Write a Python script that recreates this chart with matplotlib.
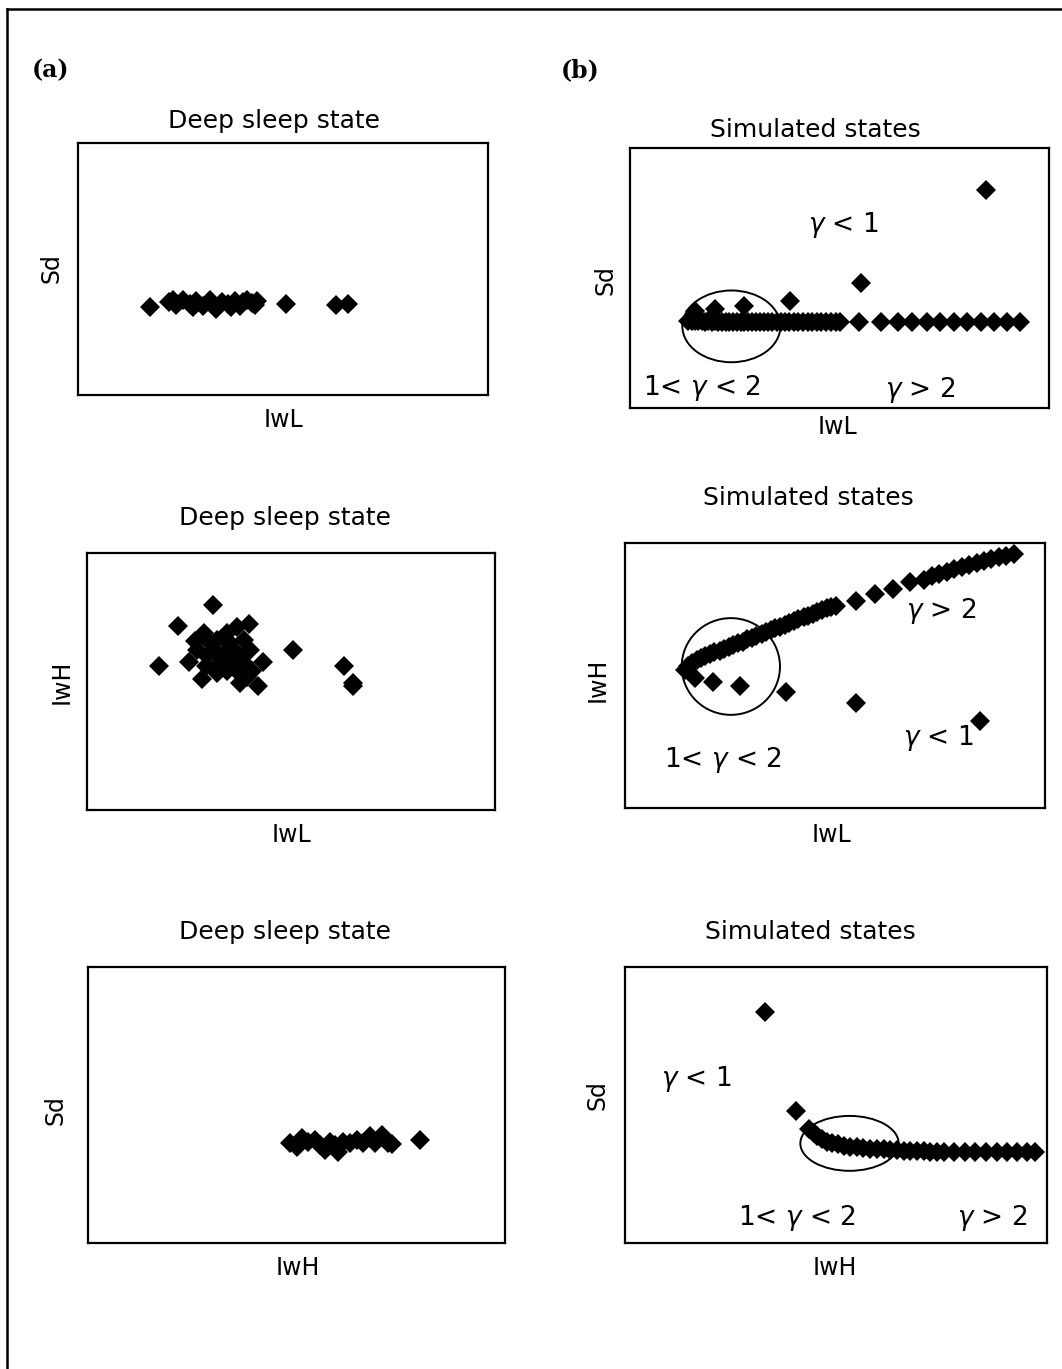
import matplotlib
matplotlib.use("Agg")
import matplotlib.pyplot as plt
from matplotlib.patches import Ellipse
from matplotlib.lines import Line2D

W, H = 1062, 1369

# all values are in percent of each panel's axis range (no ticks in the original)

# (a) top: IwL vs Sd
a1_x = [17.5, 22.2, 23.2, 24.0, 25.6, 27.2, 28.0, 28.9, 30.5, 32.1, 32.9, 33.7, 35.0,
        36.6, 37.4, 38.2, 39.4, 40.2, 41.1, 42.5, 43.1, 43.7, 50.8, 63.0, 65.9]
a1_y = [35.0, 37.0, 37.6, 35.7, 37.6, 36.1, 35.0, 37.4, 35.4, 37.6, 36.3, 34.0, 37.0,
        36.1, 35.0, 37.4, 35.4, 37.0, 37.6, 36.6, 35.7, 37.4, 36.1, 35.7, 36.1]

# (a) middle: IwL vs IwH
a2_x = [30.9, 22.4, 39.8, 17.6, 25.1, 29.2, 28.2, 50.6, 62.9, 65.1, 65.3, 41.8, 37.4, 43.1,
        28.6, 26.5, 26.9, 31.8, 34.3, 36.7, 38.4, 40.0, 36.7, 33.5, 31.0, 32.7, 35.9,
        38.4, 31.8, 34.3, 40.4, 39.2, 30.2, 35.1, 36.7, 33.0, 37.8, 29.5]
a2_y = [79.9, 71.7, 72.5, 56.1, 57.4, 56.1, 50.9, 62.3, 56.1, 49.6, 48.1, 48.4, 49.4, 57.4,
        68.8, 65.6, 62.3, 66.2, 68.8, 71.4, 66.2, 62.3, 61.0, 61.0, 62.3, 57.1, 57.1,
        57.1, 53.2, 53.9, 53.9, 51.9, 64.9, 64.9, 53.9, 59.0, 59.5, 60.0]

# (a) bottom: IwH vs Sd
a3_x = [48.4, 50.0, 51.2, 52.8, 54.4, 55.6, 56.8, 58.0, 59.2, 60.0, 61.2, 62.8, 64.4,
        66.0, 67.6, 68.8, 70.4, 72.0, 73.0, 79.6]
a3_y = [36.3, 34.9, 37.9, 36.7, 37.3, 35.5, 33.7, 36.7, 35.5, 33.1, 36.7, 36.3, 37.3,
        36.1, 38.7, 36.1, 39.1, 36.3, 35.8, 37.3]

# (b) top: simulated IwL vs Sd
b1_x = [13.9, 14.7, 15.5, 16.3, 17.1, 17.9, 18.7, 19.5, 20.3, 21.1, 21.9, 22.8, 23.7,
        24.6, 25.5, 26.4, 27.3, 28.2, 29.1, 30.0, 31.0, 32.0, 33.0, 34.0, 35.0, 36.0,
        37.0, 38.0, 39.1, 40.2, 41.3, 42.4, 43.5, 44.6, 45.7, 46.8, 48.0, 49.1, 50.1,
        54.7, 60.0, 64.0, 67.4, 70.8, 74.1, 77.3, 80.5, 83.7, 86.9, 90.0, 93.0,
        15.5, 20.3, 27.2, 38.2, 55.2, 84.9]
b1_y = [33.6, 33.4, 33.6, 33.3, 33.5, 33.2, 33.4, 33.1, 33.3, 33.0, 33.2, 33.0, 33.1,
        32.9, 33.0, 32.9, 33.0, 32.9, 32.9, 32.9, 32.9, 32.9, 32.9, 32.9, 32.9, 32.9,
        32.9, 32.9, 32.9, 32.9, 32.9, 32.9, 32.9, 32.9, 32.9, 32.9, 32.9, 32.9, 32.9,
        32.9, 32.9, 32.9, 32.9, 32.9, 32.9, 32.9, 32.9, 32.9, 32.9, 32.9, 32.9,
        37.2, 38.1, 39.1, 41.0, 48.1, 84.0]

# (b) middle: simulated IwL vs IwH
b2_x = [14.3, 15.1, 16.0, 17.1, 18.1, 19.1, 20.2, 21.3, 22.5, 23.6, 24.7, 25.8, 26.9,
        28.0, 29.1, 30.2, 31.3, 32.5, 33.6, 34.7, 35.8, 36.9, 38.0, 39.1, 40.2, 41.3,
        42.5, 43.6, 44.7, 45.8, 46.9, 48.0, 49.1, 50.2,
        55.0, 59.5, 63.9, 67.9,
        71.2, 73.0, 74.8, 76.6, 78.3, 80.2, 82.0, 83.7, 85.5, 87.2, 89.0, 90.7, 92.5,
        16.7, 20.9, 27.4, 38.3, 55.0, 84.5]
b2_y = [51.9, 53.7, 54.9, 55.9, 56.7, 57.3, 58.1, 58.7, 59.4, 60.1, 60.8, 61.5, 62.2,
        62.8, 63.6, 64.2, 65.0, 65.6, 66.4, 67.0, 67.8, 68.4, 69.1, 69.8, 70.5, 71.2,
        71.9, 72.5, 73.3, 73.9, 74.7, 75.3, 75.8, 76.3,
        78.0, 80.7, 82.6, 85.1,
        86.1, 87.4, 88.3, 89.2, 90.1, 90.9, 91.7, 92.4, 93.2, 94.0, 94.6, 95.2, 96.0,
        49.0, 47.4, 46.1, 43.6, 39.8, 33.0]

# (b) bottom: simulated IwH vs Sd
b3_x = [33.2, 40.6,
        43.7, 44.7, 45.6, 46.6, 47.8, 49.0, 50.4, 51.8, 53.4, 54.9, 56.5, 58.1, 59.7,
        61.3, 62.8, 64.4, 66.0, 67.6, 69.2, 70.8, 72.3, 73.9, 75.5,
        77.9, 80.6, 83.0, 85.6, 88.1, 90.5, 92.9, 95.3, 97.2]
b3_y = [83.7, 48.0,
        41.2, 39.8, 38.6, 37.6, 36.7, 36.1, 35.7, 35.3, 34.9, 34.7, 34.5, 34.2, 34.0,
        33.9, 33.7, 33.6, 33.5, 33.4, 33.3, 33.3, 33.1, 33.1, 33.0,
        32.9, 32.9, 32.9, 32.9, 32.9, 32.9, 32.9, 32.9, 32.9]

fig = plt.figure(figsize=(W / 100, H / 100), dpi=100)


def px_axes(l, t, r, b):
    return fig.add_axes([l / W, 1 - b / H, (r - l) / W, (b - t) / H])


def fig_text(x, y, s, **kw):
    fig.text(x / W, 1 - y / H, s, ha="center", va="center", **kw)


def setup(ax):
    ax.set_xlim(0, 100)
    ax.set_ylim(0, 100)
    ax.set_xticks([])
    ax.set_yticks([])
    for sp in ax.spines.values():
        sp.set_linewidth(1.6)


def dots(ax, x, y):
    ax.plot(x, y, "D", color="black", ms=10.5, mew=0)


def ring(ax, cx, cy, w, h):
    ax.add_patch(Ellipse((cx, cy), w, h, fill=False, ec="black", lw=1.4))


def gtxt(ax, x, y, s):
    ax.text(x, y, s, ha="center", va="center", fontsize=19)


ax1 = px_axes(78, 143, 488, 395)
ax2 = px_axes(87, 553, 495, 810)
ax3 = px_axes(88, 967, 505, 1243)
bx1 = px_axes(630, 148, 1049, 408)
bx2 = px_axes(625, 543, 1045, 808)
bx3 = px_axes(625, 967, 1047, 1243)
for a in (ax1, ax2, ax3, bx1, bx2, bx3):
    setup(a)

dots(ax1, a1_x, a1_y)
dots(ax2, a2_x, a2_y)
dots(ax3, a3_x, a3_y)
dots(bx1, b1_x, b1_y)
dots(bx2, b2_x, b2_y)
dots(bx3, b3_x, b3_y)

ring(bx1, 24.2, 31.4, 23.4, 27.6)
ring(bx2, 25.2, 53.4, 23.4, 36.5)
ring(bx3, 53.2, 36.1, 23.3, 19.9)

gtxt(bx1, 50.9, 70.5, r"$\gamma$ < 1")
gtxt(bx1, 17.1, 7.7, r"1< $\gamma$ < 2")
gtxt(bx1, 69.2, 7.1, r"$\gamma$ > 2")
gtxt(bx2, 75.4, 74.2, r"$\gamma$ > 2")
gtxt(bx2, 74.6, 26.3, r"$\gamma$ < 1")
gtxt(bx2, 23.4, 18.1, r"1< $\gamma$ < 2")
gtxt(bx3, 17.0, 59.6, r"$\gamma$ < 1")
gtxt(bx3, 40.7, 9.0, r"1< $\gamma$ < 2")
gtxt(bx3, 87.0, 9.0, r"$\gamma$ > 2")

# titles and axis names
fig_text(274, 121, "Deep sleep state", fontsize=18)
fig_text(285, 518, "Deep sleep state", fontsize=18)
fig_text(285, 932, "Deep sleep state", fontsize=18)
fig_text(815, 130, "Simulated states", fontsize=18)
fig_text(808, 498, "Simulated states", fontsize=18)
fig_text(810, 932, "Simulated states", fontsize=18)

fig_text(283, 420, "IwL", fontsize=17)
fig_text(838, 427, "IwL", fontsize=17)
fig_text(292, 835, "IwL", fontsize=17)
fig_text(832, 835, "IwL", fontsize=17)
fig_text(298, 1268, "IwH", fontsize=17)
fig_text(835, 1268, "IwH", fontsize=17)

fig_text(52, 268, "Sd", fontsize=17, rotation=90)
fig_text(605, 280, "Sd", fontsize=17, rotation=90)
fig_text(62, 682, "IwH", fontsize=17, rotation=90)
fig_text(598, 680, "IwH", fontsize=17, rotation=90)
fig_text(55, 1110, "Sd", fontsize=17, rotation=90)
fig_text(598, 1095, "Sd", fontsize=17, rotation=90)

fig_text(51, 70, "(a)", fontsize=17, family="serif", fontweight="bold")
fig_text(580, 70, "(b)", fontsize=17, family="serif", fontweight="bold")

# outer frame (left and top edges only)
fig.add_artist(Line2D([7 / W, 7 / W], [0, 1 - 9 / H], color="black", lw=1.8))
fig.add_artist(Line2D([7 / W, 1], [1 - 9 / H, 1 - 9 / H], color="black", lw=1.8))

fig.savefig("out.png", dpi=100)
